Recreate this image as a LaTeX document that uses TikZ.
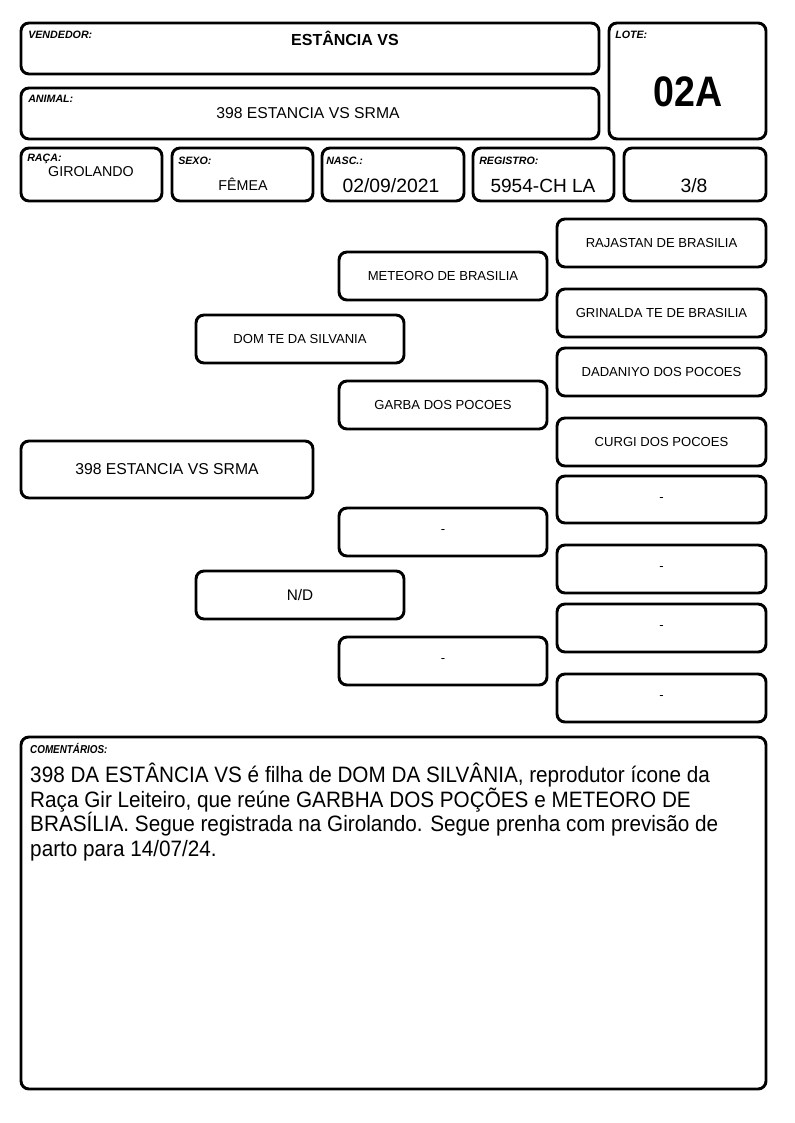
\documentclass[tikz,border=0pt]{standalone}
\usepackage{fontspec}
\setmainfont{Liberation Sans}
\begin{document}
\begin{tikzpicture}[x=0.75pt,y=-0.75pt,
  box/.style={draw=black, line width=2.2pt, rounded corners=6pt, inner sep=0pt, fill=white},
  ped/.style={font=\fontsize{9.8pt}{11pt}\selectfont},
  lbl/.style={anchor=west, inner sep=0pt, font=\fontsize{8pt}{9pt}\selectfont\bfseries\itshape},
  val/.style={inner sep=0pt},
]
\useasboundingbox[fill=white] (0,0) rectangle (794,1123);
\newcommand\bx[6]{%
  \node[box, minimum width={(#4-#2)*0.75pt}, minimum height={(#5-#3)*0.75pt}, #6]
    (#1) at ({(#2+#4)/2},{(#3+#5)/2})}
% header
\bx{vend}{21}{23}{599}{74}{}{};
\bx{lote}{609}{23}{766}{139}{}{};
\bx{anim}{21}{88}{599}{139}{}{};
\bx{raca}{21}{148}{162}{201}{}{};
\bx{sexo}{172}{148}{313}{201}{}{};
\bx{nasc}{322}{148}{464}{201}{}{};
\bx{reg}{473}{148}{614}{201}{}{};
\bx{frac}{624}{148}{766}{201}{}{};
\node[lbl] (lvend) at (28,35) {VENDEDOR:};
\node[val, font=\fontsize{12pt}{14pt}\selectfont\bfseries] (tvend) at (345,38) {ESTÂNCIA VS};
\node[lbl] (llote) at (615,35) {LOTE:};
\node[val, font=\fontsize{32pt}{34pt}\selectfont\bfseries, xscale=0.88] (tlote) at (688,92) {02A};
\node[lbl] (lanim) at (28,99) {ANIMAL:};
\node[val, font=\fontsize{11.8pt}{14pt}\selectfont] (tanim) at (308,113) {398 ESTANCIA VS SRMA};
\node[lbl] (lraca) at (27,159) {RAÇA:};
\node[val, font=\fontsize{10.7pt}{12pt}\selectfont] (traca) at (91,172) {GIROLANDO};
\node[lbl] (lsexo) at (178,161) {SEXO:};
\node[val, font=\fontsize{10.7pt}{12pt}\selectfont] (tsexo) at (243,184) {FÊMEA};
\node[lbl] (lnasc) at (326,161) {NASC.:};
\node[val, font=\fontsize{14.5pt}{16pt}\selectfont] (tnasc) at (391,186) {02/09/2021};
\node[lbl] (lreg) at (479,161) {REGISTRO:};
\node[val, font=\fontsize{14.3pt}{16pt}\selectfont] (treg) at (543,186) {5954-CH LA};
\node[val, font=\fontsize{14.5pt}{16pt}\selectfont] (tfrac) at (694,186) {3/8};
% pedigree
\bx{subj}{21}{441}{313}{498}{font=\fontsize{11.8pt}{14pt}\selectfont}{398 ESTANCIA VS SRMA};
\bx{sire}{196}{315}{404}{363}{ped}{DOM TE DA SILVANIA};
\bx{dam}{196}{571}{404}{619}{ped, font=\fontsize{11.5pt}{13pt}\selectfont}{N/D};
\bx{ss}{339}{252}{547}{300}{ped}{METEORO DE BRASILIA};
\bx{sd}{339}{381}{547}{429}{ped}{GARBA DOS POCOES};
\bx{ds}{339}{508}{547}{556}{ped}{-};
\bx{dd}{339}{637}{547}{685}{ped}{-};
\bx{sss}{557}{219}{766}{267}{ped}{RAJASTAN DE BRASILIA};
\bx{ssd}{557}{289}{766}{337}{ped}{GRINALDA TE DE BRASILIA};
\bx{sds}{557}{348}{766}{396}{ped}{DADANIYO DOS POCOES};
\bx{sdd}{557}{418}{766}{466}{ped}{CURGI DOS POCOES};
\bx{dss}{557}{476}{766}{523}{ped}{-};
\bx{dsd}{557}{545}{766}{593}{ped}{-};
\bx{dds}{557}{604}{766}{652}{ped}{-};
\bx{ddd}{557}{674}{766}{722}{ped}{-};
% comments
\bx{com}{21}{737}{766}{1089}{}{};
\node[lbl, font=\fontsize{8.6pt}{9pt}\selectfont\bfseries\itshape, xscale=0.86] (lcom) at (30,748) {COMENTÁRIOS:};
\node[anchor=north west, inner sep=0pt, align=left, xscale=0.93, font=\fontsize{16.7pt}{18.4pt}\selectfont] (tcom) at (30,763)
{398 DA ESTÂNCIA VS é filha de DOM DA SILVÂNIA, reprodutor ícone da\\
Raça Gir Leiteiro, que reúne GARBHA DOS POÇÕES e METEORO DE\\
BRASÍLIA. Segue registrada na Girolando. Segue prenha com previsão de\\
parto para 14/07/24.};
\end{tikzpicture}
\end{document}
